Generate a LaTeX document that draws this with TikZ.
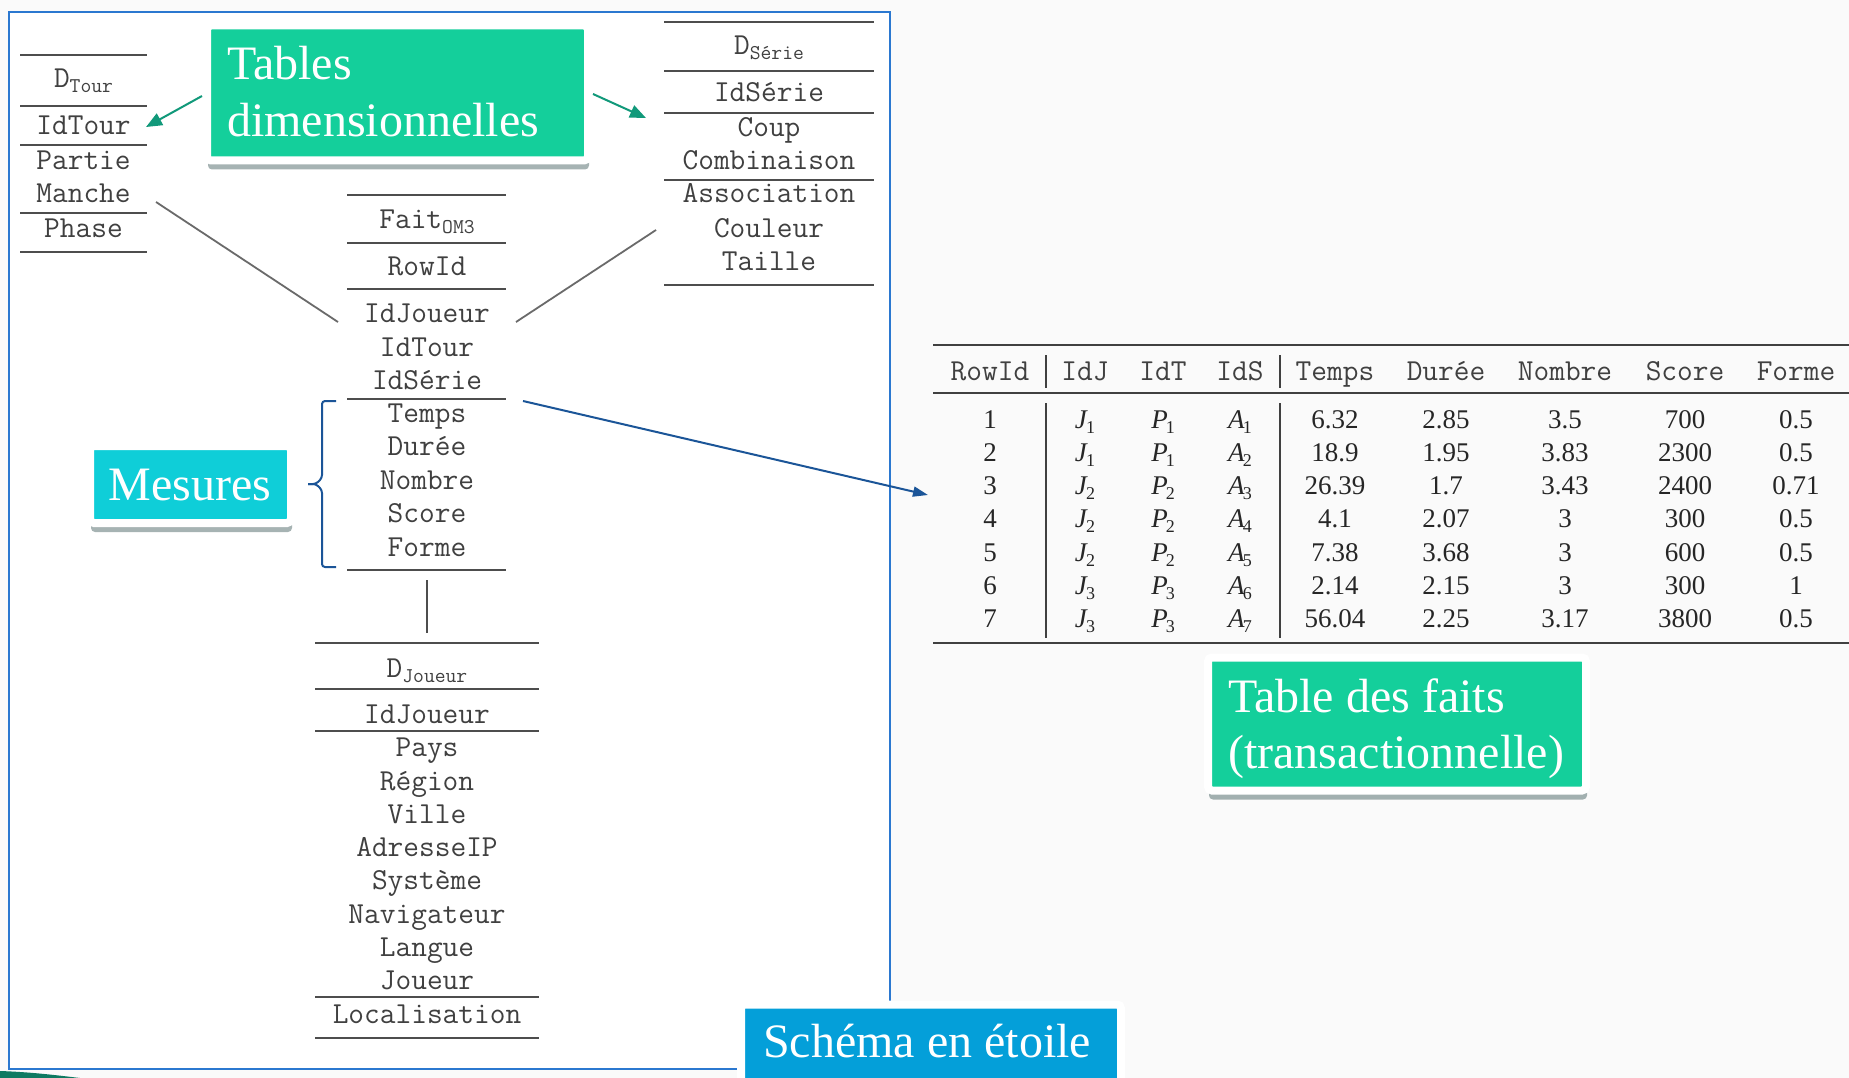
\documentclass[tikz,border=0pt]{standalone}
\usepackage{fontspec}
\setmainfont{Liberation Serif}
\setmonofont{Latin Modern Mono}
\usetikzlibrary{arrows.meta,shadows}
\definecolor{framecol}{HTML}{2B78D0}
\definecolor{greencol}{HTML}{14CF9B}
\definecolor{cyancol}{HTML}{0FCED8}
\definecolor{bluebox}{HTML}{049FD9}
\definecolor{arrowgreen}{HTML}{11997A}
\definecolor{arrowblue}{HTML}{1B5598}
\definecolor{monocol}{HTML}{404040}
\definecolor{rulecol}{HTML}{4D4D4D}
\definecolor{linkcol}{HTML}{6A6A6A}
\definecolor{bgcol}{HTML}{FAFAFA}
\newcommand\mkD[2]{#1\raisebox{-5pt}{\fontsize{21}{21}\selectfont #2}}
\newcommand\mkM[2]{\textit{#1}\kern-2pt\raisebox{-5pt}{\fontsize{18}{18}\selectfont #2}}
\newcommand\mkRow[8]{%
  \node[body] (r#1a) at (990,{394.67+33.33*#1}) {#1};
  \node[body] (r#1b) at (1085,{394.67+33.33*#1}) {\mkM{J}{#2}};
  \node[body] (r#1c) at (1163,{394.67+33.33*#1}) {\mkM{P}{#3}};
  \node[body] (r#1d) at (1240,{394.67+33.33*#1}) {\mkM{A}{#1}};
  \node[body] (r#1e) at (1335,{394.67+33.33*#1}) {#4};
  \node[body] (r#1f) at (1446,{394.67+33.33*#1}) {#5};
  \node[body] (r#1g) at (1565,{394.67+33.33*#1}) {#6};
  \node[body] (r#1h) at (1685,{394.67+33.33*#1}) {#7};
  \node[body] (r#1i) at (1796,{394.67+33.33*#1}) {#8};
}
\tikzset{
  mono/.style={font=\fontsize{30.5}{30.5}\selectfont\ttfamily, text=monocol, inner sep=0pt, anchor=base},
  body/.style={font=\fontsize{27}{27}\selectfont, text=black!85, inner sep=0pt, anchor=base},
  hrule/.style={draw=rulecol, line width=2pt},
  trule/.style={draw=black!75, line width=2.6pt},
  vrule/.style={draw=black!75, line width=1.5pt},
  link/.style={draw=linkcol, line width=1.8pt},
  callout/.style={draw=white, line width=8pt, rounded corners=4pt, inner sep=0pt, outer sep=0pt,
    drop shadow={shadow xshift=1pt, shadow yshift=-9pt, opacity=0.35, fill=black!70!teal}},
  bigtext/.style={font=\fontsize{48}{48}\selectfont, text=white, inner sep=0pt, anchor=base west},
  garrow/.style={draw=arrowgreen, line width=2pt, -{Triangle[length=16pt,width=13pt]}},
  barrow/.style={draw=arrowblue, line width=2pt, -{Triangle[length=15pt,width=10pt]}},
}
\begin{document}
\begin{tikzpicture}[x=1pt,y=-1pt]
\useasboundingbox (0,0) rectangle (1849,1078);
\fill[bgcol] (0,0) rectangle (1849,1078);
\draw[framecol, line width=2pt, fill=white] (9,12) rectangle (890,1069);
\fill[arrowgreen!80!black] (0,1071) .. controls (30,1072) and (55,1075) .. (80,1078) -- (0,1078) -- cycle;

% D_Tour
\foreach \yy in {55,106,145,213,252} \draw[hrule] (20,\yy) -- (147,\yy);
\node[mono] (dtT) at (83.5,88) {\mkD{D}{Tour}};
\node[mono] (dtId) at (83.5,135) {IdTour};
\node[mono] (dtPa) at (83.5,170) {Partie};
\node[mono] (dtMa) at (83.5,203) {Manche};
\node[mono] (dtPh) at (83.5,237) {Phase};

% Fait
\foreach \yy in {195,243,289,399,570} \draw[hrule] (347,\yy) -- (506,\yy);
\node[mono] (fT) at (427,229) {\mkD{Fait}{OM3}};
\node[mono] (fRow) at (427,275) {RowId};
\node[mono] (fJ) at (427,322) {IdJoueur};
\node[mono] (fTo) at (427,356) {IdTour};
\node[mono] (fS) at (427,389) {IdSérie};
\node[mono] (fTe) at (427,422) {Temps};
\node[mono] (fDu) at (427,455) {Durée};
\node[mono] (fNo) at (427,489) {Nombre};
\node[mono] (fSc) at (427,522) {Score};
\node[mono] (fFo) at (427,556) {Forme};

% D_Serie
\foreach \yy in {22,71,113,180,285} \draw[hrule] (664,\yy) -- (874,\yy);
\node[mono] (dsT) at (769,55) {\mkD{D}{Série}};
\node[mono] (dsId) at (769,102) {IdSérie};
\node[mono] (dsCo) at (769,137) {Coup};
\node[mono] (dsCb) at (769,170) {Combinaison};
\node[mono] (dsAs) at (769,203) {Association};
\node[mono] (dsCl) at (769,237) {Couleur};
\node[mono] (dsTa) at (769,270) {Taille};

% D_Joueur
\foreach \yy in {643,689,731,997,1038} \draw[hrule] (315,\yy) -- (539,\yy);
\node[mono] (djT) at (427,677) {\mkD{D}{Joueur}};
\node[mono] (djId) at (427,723) {IdJoueur};
\node[mono] (djPa) at (427,756) {Pays};
\node[mono] (djRe) at (427,790) {Région};
\node[mono] (djVi) at (427,823) {Ville};
\node[mono] (djAd) at (427,856) {AdresseIP};
\node[mono] (djSy) at (427,889) {Système};
\node[mono] (djNa) at (427,923) {Navigateur};
\node[mono] (djLa) at (427,956) {Langue};
\node[mono] (djJo) at (427,989) {Joueur};
\node[mono] (djLo) at (427,1023) {Localisation};

% links
\coordinate (lkA) at (156,202);
\coordinate (lkB) at (338,322);
\coordinate (lkC) at (516,322);
\coordinate (lkD) at (656,230);
\coordinate (lkE) at (427,580);
\coordinate (lkF) at (427,633);
\draw[link] (lkA) -- (lkB);
\draw[link] (lkC) -- (lkD);
\draw[draw=rulecol, line width=1.8pt] (lkE) -- (lkF);

% bracket
\draw[draw=arrowblue, line width=2pt, rounded corners=3pt]
  (336,401) -- (322,401) -- (322,478) -- (316,484) -- (308,484);
\draw[draw=arrowblue, line width=2pt, rounded corners=3pt]
  (308,484) -- (316,484) -- (322,490) -- (322,567) -- (336,567);

% fact table
\draw[trule] (933,345) -- (1849,345);
\draw[trule] (933,393) -- (1849,393);
\draw[trule] (933,643) -- (1849,643);
\draw[vrule] (1046,355) -- (1046,388);
\draw[vrule] (1046,403) -- (1046,638);
\draw[vrule] (1280,355) -- (1280,388);
\draw[vrule] (1280,403) -- (1280,638);
\node[mono] (hRow) at (990,380) {RowId};
\node[mono] (hJ) at (1085,380) {IdJ};
\node[mono] (hT) at (1163,380) {IdT};
\node[mono] (hS) at (1240,380) {IdS};
\node[mono] (hTe) at (1335,380) {Temps};
\node[mono] (hDu) at (1446,380) {Durée};
\node[mono] (hNo) at (1565,380) {Nombre};
\node[mono] (hSc) at (1685,380) {Score};
\node[mono] (hFo) at (1796,380) {Forme};
\mkRow{1}{1}{1}{6.32}{2.85}{3.5}{700}{0.5}
\mkRow{2}{1}{1}{18.9}{1.95}{3.83}{2300}{0.5}
\mkRow{3}{2}{2}{26.39}{1.7}{3.43}{2400}{0.71}
\mkRow{4}{2}{2}{4.1}{2.07}{3}{300}{0.5}
\mkRow{5}{2}{2}{7.38}{3.68}{3}{600}{0.5}
\mkRow{6}{3}{3}{2.14}{2.15}{3}{300}{1}
\mkRow{7}{3}{3}{56.04}{2.25}{3.17}{3800}{0.5}

% blue arrow
\coordinate (lkG) at (523,401);
\coordinate (lkH) at (928,495);
\draw[barrow] (lkG) -- (lkH);

% callouts
\node[callout, fill=greencol, minimum width=381pt, minimum height=135pt] (tdim) at (397.5,93) {};
\node[bigtext] (tdimA) at (227,80) {Tables};
\node[bigtext] (tdimB) at (227,137) {dimensionnelles};
\coordinate (gA) at (202,96);
\coordinate (gB) at (146,127);
\coordinate (gC) at (593,94);
\coordinate (gD) at (646,118);
\draw[garrow] (gA) -- (gB);
\draw[garrow] (gC) -- (gD);

\node[callout, fill=cyancol, minimum width=201pt, minimum height=77pt] (mes) at (190.5,484.5) {};
\node[bigtext, anchor=base] (mesT) at (190,500) {Mesures};

\node[callout, fill=greencol, minimum width=378pt, minimum height=133pt] (tfa) at (1397,724) {};
\node[bigtext] (tfaA) at (1228,712) {Table des faits};
\node[bigtext] (tfaB) at (1228,768) {(transactionnelle)};

\node[callout, fill=bluebox, minimum width=380pt, minimum height=85pt] (sch) at (931,1047) {};
\node[bigtext] (schT) at (763,1057) {Schéma en étoile};
\end{tikzpicture}
\end{document}
